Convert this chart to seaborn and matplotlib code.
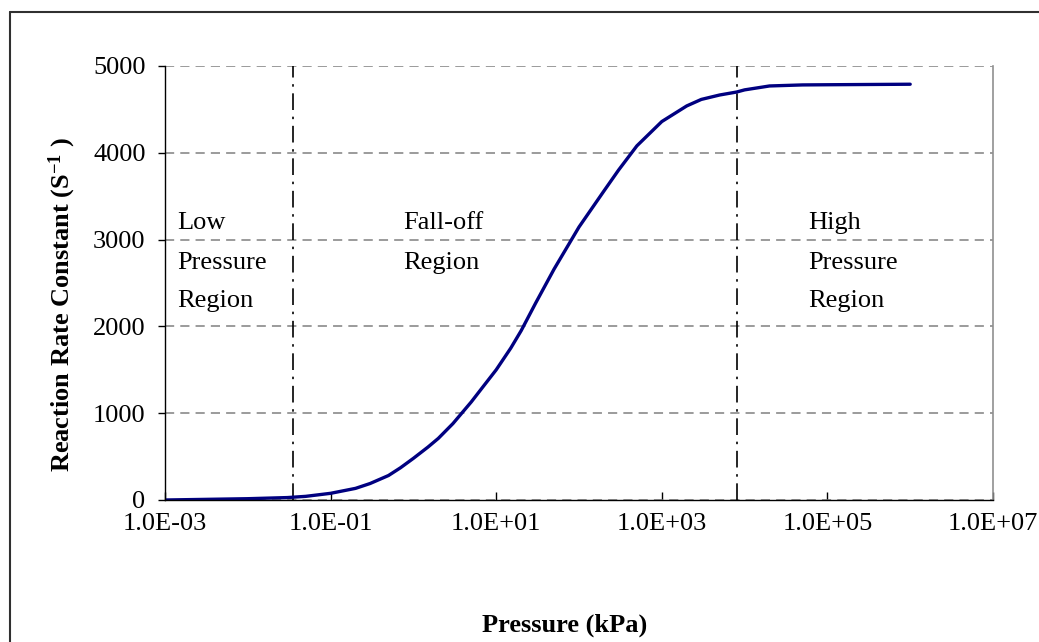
import matplotlib
matplotlib.use("Agg")
import matplotlib.pyplot as plt
from matplotlib.lines import Line2D
import numpy as np
import pandas as pd
import seaborn as sns

# Reaction rate constant versus pressure (fall-off curve)
pressure_kpa = [1e-3, 1e-2, 3e-2, 5e-2, 1e-1, 0.2, 0.3, 0.5, 0.7, 1, 1.5, 2, 3, 5, 7, 10,
                15, 20, 30, 50, 100, 200, 300, 500, 1000, 2000, 3000, 5000, 8000,
                1e4, 2e4, 5e4, 1e5, 1e6]
rate_constant = [0, 15, 28, 42, 77, 134, 190, 282, 372, 480, 610, 710, 880, 1130, 1310, 1500,
                 1750, 1950, 2270, 2660, 3145, 3560, 3800, 4080, 4360, 4540, 4615, 4666, 4700,
                 4725, 4770, 4782, 4784, 4790]

# Region boundaries (kPa)
boundaries = [0.035, 8000]

# Region annotations: x position (kPa) and lines of text
region_x = [1.4e-3, 0.75, 5.8e4]
region_lines = [["Low", "Pressure", "Region"],
                ["Fall-off", "Region"],
                ["High", "Pressure", "Region"]]
line_y = [3191, 2730, 2292]

x_ticks = [1e-3, 1e-1, 1e1, 1e3, 1e5, 1e7]
x_tick_labels = ["1.0E-03", "1.0E-01", "1.0E+01", "1.0E+03", "1.0E+05", "1.0E+07"]
y_ticks = [0, 1000, 2000, 3000, 4000, 5000]

FS = 19

sns.set_theme(style="white")
plt.rcParams["font.family"] = ["Liberation Serif", "DejaVu Serif"]
plt.rcParams["mathtext.fontset"] = "custom"
plt.rcParams["mathtext.rm"] = "Liberation Serif"
plt.rcParams["mathtext.bf"] = "Liberation Serif:bold"
for key in ["text.color", "axes.labelcolor", "xtick.color", "ytick.color"]:
    plt.rcParams[key] = "black"

fig = plt.figure(figsize=(10.39, 6.42), dpi=100)
ax = fig.add_axes([165 / 1039, 1 - 500 / 642, 828 / 1039, 434 / 642])

df = pd.DataFrame({"Pressure": pressure_kpa, "Rate": rate_constant})
sns.lineplot(data=df, x="Pressure", y="Rate", ax=ax, color="#000080",
             linewidth=2.4, zorder=5)

ax.set_xscale("log")
ax.set_xlim(1e-3, 1e7)
ax.set_ylim(0, 5000)

ax.set_xticks(x_ticks)
ax.set_xticklabels(x_tick_labels)
ax.xaxis.set_minor_locator(matplotlib.ticker.NullLocator())
ax.set_yticks(y_ticks)
ax.set_yticklabels([str(v) for v in y_ticks])

ax.tick_params(axis="x", direction="in", length=6, width=1, colors="black",
               labelsize=FS, pad=9, bottom=True, top=False)
ax.tick_params(axis="y", direction="out", length=5, width=1, colors="black",
               labelsize=FS, pad=9, left=True, right=False)

# Dashed horizontal gridlines
ax.yaxis.grid(True, linestyle=(0, (6, 4)), color="#808080", linewidth=1.1)
ax.xaxis.grid(False)
ax.set_axisbelow(True)

for side in ["left", "bottom"]:
    ax.spines[side].set_color("black")
    ax.spines[side].set_linewidth(1.0)
    ax.spines[side].set_zorder(6)
ax.spines["top"].set_visible(False)
ax.spines["right"].set_color("#909090")
ax.spines["right"].set_linewidth(1.2)

# Region boundaries
for b in boundaries:
    ax.axvline(b, color="black", linewidth=1.2, linestyle=(0, (10, 4, 1.5, 4)), zorder=4)

# Region labels
for xr, lines in zip(region_x, region_lines):
    for txt, yv in zip(lines, line_y):
        ax.text(xr, yv, txt, fontsize=FS, ha="left", va="center", color="black")

ax.set_xlabel("")
ax.set_ylabel("")
fig.text(565 / 1039, 1 - 625 / 642, "Pressure (kPa)", fontsize=FS, fontweight="bold",
         ha="center", va="center")
fig.text(62 / 1039, 1 - 305 / 642, r"Reaction Rate Constant (S$\mathbf{^{-1}}$ )",
         fontsize=FS, fontweight="bold", rotation=90, ha="center", va="center")

# Outer chart frame
fig.add_artist(Line2D([10 / 1039, 10 / 1039], [-0.01, 1 - 12 / 642],
                      transform=fig.transFigure, color="#303030", linewidth=1.5))
fig.add_artist(Line2D([10 / 1039, 1.01], [1 - 12 / 642, 1 - 12 / 642],
                      transform=fig.transFigure, color="#303030", linewidth=1.5))

fig.savefig("out.png", dpi=100, facecolor="white")
